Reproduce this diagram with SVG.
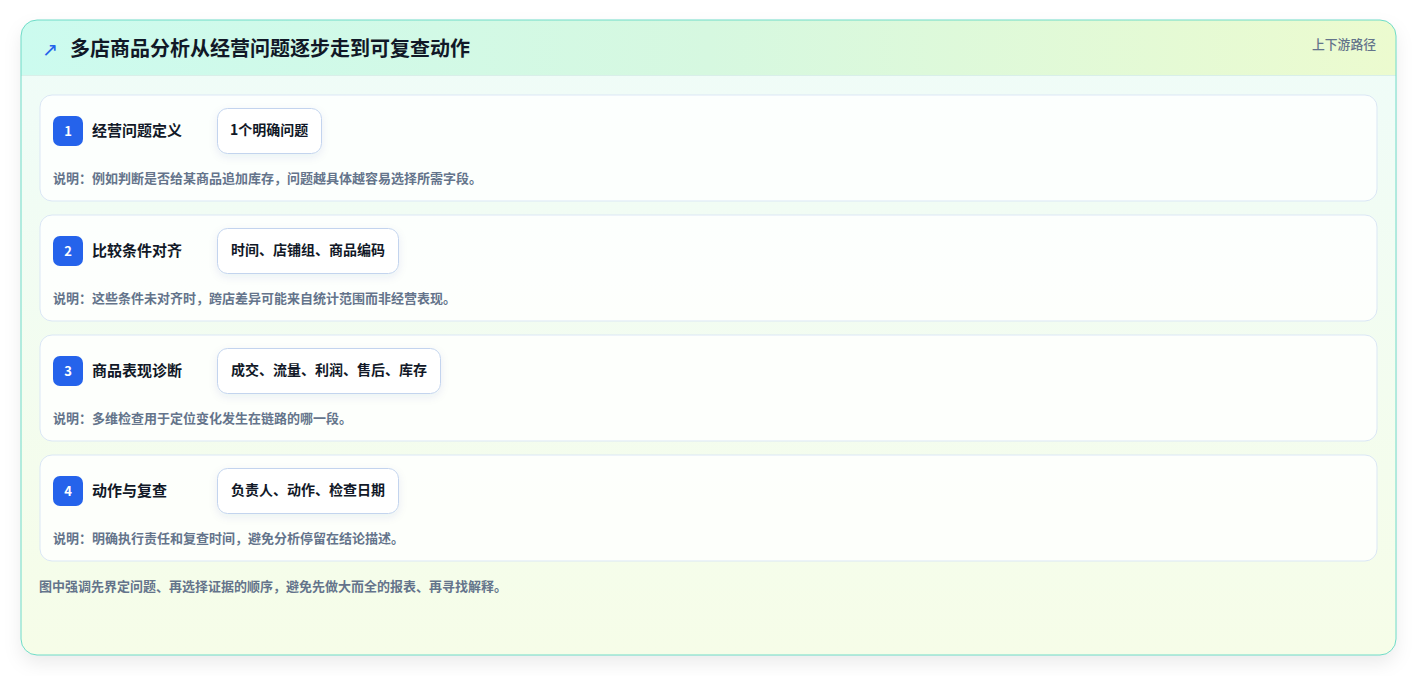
<svg xmlns="http://www.w3.org/2000/svg" width="1417" height="676" viewBox="0 0 1417 676">
<defs>
<linearGradient id="hdr" x1="0" y1="0" x2="1" y2="0">
<stop offset="0" stop-color="#ccfbef"/>
<stop offset="0.5" stop-color="#d6f8e0"/>
<stop offset="1" stop-color="#ecfbcf"/>
</linearGradient>
<linearGradient id="body" x1="0" y1="0" x2="0" y2="1">
<stop offset="0" stop-color="#effcf9"/>
<stop offset="1" stop-color="#f6fde8"/>
</linearGradient>
<clipPath id="cardclip"><rect x="21" y="20" width="1375" height="635" rx="16"/></clipPath>
<filter id="sh" x="-5%" y="-5%" width="110%" height="115%">
<feDropShadow dx="0" dy="8" stdDeviation="9" flood-color="#0f172a" flood-opacity="0.08"/>
</filter>
<filter id="psh" x="-20%" y="-30%" width="140%" height="170%">
<feDropShadow dx="0" dy="3" stdDeviation="4" flood-color="#1e3a8a" flood-opacity="0.08"/>
</filter>
<style>
text{font-family:"Noto Sans CJK SC","Noto Sans",sans-serif;}
.title{font-size:20px;font-weight:700;fill:#111827;}
.meta{font-size:12.8px;font-weight:500;fill:#64748b;}
.step{fill:#ffffff;fill-opacity:0.8;stroke:#dbe7f5;stroke-width:1;}
.badge{fill:#2563eb;}
.num{font-size:13px;font-weight:700;fill:#ffffff;text-anchor:middle;}
.label{font-size:15px;font-weight:700;fill:#111827;}
.pill{fill:#ffffff;stroke:#c3d4ee;stroke-width:1;}
.ptext{font-size:14px;font-weight:700;fill:#111827;}
.desc{font-size:13px;font-weight:700;fill:#64748b;}
</style>
</defs>
<g id="card">
<rect x="21" y="20" width="1375" height="635" rx="16" fill="url(#body)" filter="url(#sh)"/>
<g clip-path="url(#cardclip)">
<rect x="21" y="20" width="1375" height="55" fill="url(#hdr)"/>
<line x1="21" y1="75.5" x2="1396" y2="75.5" stroke="#d9efe9" stroke-width="1"/>
</g>
<rect x="21" y="20" width="1375" height="635" rx="16" fill="none" stroke="#6fdcc8" stroke-width="1"/>
<text x="42" y="56" font-size="19" fill="#2563eb" style="font-family:'DejaVu Sans',sans-serif">↗</text>
<text class="title" x="70" y="56">多店商品分析从经营问题逐步走到可复查动作</text>
<text class="meta" x="1376" y="49" text-anchor="end">上下游路径</text>
</g>
<g id="step1">
<rect class="step" x="40" y="95" width="1337" height="106" rx="12"/>
<rect class="badge" x="53" y="116" width="30" height="30" rx="7"/>
<text class="num" x="68" y="136">1</text>
<text class="label" x="92" y="136">经营问题定义</text>
<rect class="pill" x="217.5" y="108.5" width="104" height="45" rx="10" filter="url(#psh)"/>
<text class="ptext" x="230" y="135">1个明确问题</text>
<text class="desc" x="53" y="183">说明：例如判断是否给某商品追加库存，问题越具体越容易选择所需字段。</text>
</g>
<g id="step2">
<rect class="step" x="40" y="215" width="1337" height="106" rx="12"/>
<rect class="badge" x="53" y="236" width="30" height="30" rx="7"/>
<text class="num" x="68" y="256">2</text>
<text class="label" x="92" y="256">比较条件对齐</text>
<rect class="pill" x="217.5" y="228.5" width="181" height="45" rx="10" filter="url(#psh)"/>
<text class="ptext" x="231" y="255">时间、店铺组、商品编码</text>
<text class="desc" x="53" y="303">说明：这些条件未对齐时，跨店差异可能来自统计范围而非经营表现。</text>
</g>
<g id="step3">
<rect class="step" x="40" y="335" width="1337" height="106" rx="12"/>
<rect class="badge" x="53" y="356" width="30" height="30" rx="7"/>
<text class="num" x="68" y="376">3</text>
<text class="label" x="92" y="376">商品表现诊断</text>
<rect class="pill" x="217.5" y="348.5" width="223" height="45" rx="10" filter="url(#psh)"/>
<text class="ptext" x="231" y="375">成交、流量、利润、售后、库存</text>
<text class="desc" x="53" y="423">说明：多维检查用于定位变化发生在链路的哪一段。</text>
</g>
<g id="step4">
<rect class="step" x="40" y="455" width="1337" height="106" rx="12"/>
<rect class="badge" x="53" y="476" width="30" height="30" rx="7"/>
<text class="num" x="68" y="496">4</text>
<text class="label" x="92" y="496">动作与复查</text>
<rect class="pill" x="217.5" y="468.5" width="181" height="45" rx="10" filter="url(#psh)"/>
<text class="ptext" x="231" y="495">负责人、动作、检查日期</text>
<text class="desc" x="53" y="543">说明：明确执行责任和复查时间，避免分析停留在结论描述。</text>
</g>
<g id="connectors"></g>
<g id="footer">
<text class="desc" x="39" y="591">图中强调先界定问题、再选择证据的顺序，避免先做大而全的报表、再寻找解释。</text>
</g>
</svg>
